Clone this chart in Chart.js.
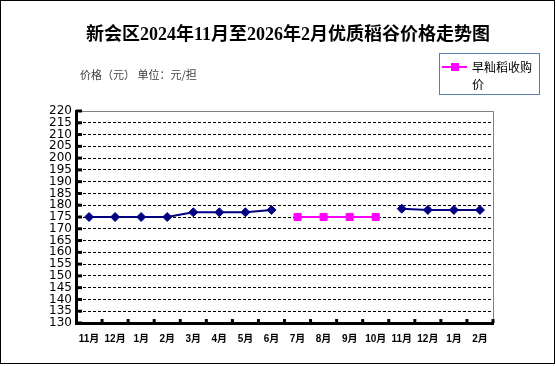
<!DOCTYPE html>
<html>
<head>
<meta charset="utf-8">
<script src="https://cdn.jsdelivr.net/npm/chart.js@4.4.1/dist/chart.umd.min.js"></script>
<style>
  html, body { margin: 0; padding: 0; background: #fff; }
  #wrap { position: relative; width: 556px; height: 366px; }
  #frame { position: absolute; left: 0; top: 0; width: 553px; height: 362px; border: 1px solid #000; pointer-events: none; }
  canvas { position: absolute; left: 0; top: 0; }
</style>
</head>
<body>
<div id="wrap">
  <canvas id="myChart" width="556" height="366"></canvas>
  <div id="frame"></div>
</div>
<script>
const chartTitle = '新会区2024年11月至2026年2月优质稻谷价格走势图';
const unitText = '价格（元） 单位：元/担';

const months = ['11月', '12月', '1月', '2月', '3月', '4月', '5月', '6月',
                '7月', '8月', '9月', '10月', '11月', '12月', '1月', '2月'];

// navy series (no legend entry in the picture)
const qualityPrice = [175, 175, 175, 175, 177, 177, 177, 178,
                      null, null, null, null, 178.5, 178, 178, 178];
// 早籼稻收购价
const earlyIndicaPrice = [null, null, null, null, null, null, null, null,
                          175, 175, 175, 175, null, null, null, null];

const yMin = 130;
const yMax = 220;
const yStep = 5;

const decorations = {
    id: 'decorations',
    beforeDatasetsDraw(chart) {
        const { ctx, chartArea: a, scales: { x, y } } = chart;
        ctx.save();
        // plot frame, top and right
        ctx.strokeStyle = '#808080';
        ctx.lineWidth = 1;
        ctx.beginPath();
        ctx.moveTo(a.left, a.top + 0.5);
        ctx.lineTo(a.right + 0.5, a.top + 0.5);
        ctx.lineTo(a.right + 0.5, a.bottom);
        ctx.stroke();
        // inner tick marks
        ctx.fillStyle = '#000';
        y.ticks.forEach(t => {
            const py = y.getPixelForValue(t.value);
            ctx.fillRect(a.left, py - 1.5, 6, 3);
        });
        const band = (a.right - a.left) / months.length;
        for (let i = 1; i <= months.length; i++) {
            const px = a.left + band * i;
            ctx.fillRect(px - 1.5, a.bottom - 4, 3, 4);
        }
        ctx.restore();
    },
    afterDraw(chart) {
        const { ctx } = chart;
        ctx.save();
        ctx.fillStyle = '#000';
        ctx.textAlign = 'center';
        ctx.textBaseline = 'middle';
        ctx.font = 'bold 18px "Liberation Serif", "Noto Sans CJK SC", serif';
        ctx.fillText(chartTitle, 288, 35);

        ctx.fillStyle = '#404040';
        ctx.textAlign = 'left';
        ctx.font = '11px "Noto Sans CJK SC", sans-serif';
        ctx.fillText(unitText, 80, 75);

        // legend for the second series
        const ds = chart.data.datasets[1];
        ctx.strokeStyle = '#5b7fae';
        ctx.lineWidth = 1;
        ctx.strokeRect(439.5, 53.5, 100, 41);
        ctx.strokeStyle = ds.borderColor;
        ctx.lineWidth = 2;
        ctx.beginPath();
        ctx.moveTo(442, 67);
        ctx.lineTo(467, 67);
        ctx.stroke();
        ctx.fillStyle = ds.backgroundColor;
        ctx.fillRect(451, 63, 8, 8);
        ctx.fillStyle = '#000';
        ctx.font = '12px "Noto Sans CJK SC", sans-serif';
        const chars = Array.from(ds.label);
        let line = '', lines = [];
        chars.forEach(c => {
            if (ctx.measureText(line + c).width > 62) { lines.push(line); line = c; }
            else line += c;
        });
        lines.push(line);
        lines.forEach((l, i) => ctx.fillText(l, 472, 67 + i * 17));
        ctx.restore();
    }
};

document.addEventListener('DOMContentLoaded', function() {
    const ctx = document.getElementById('myChart').getContext('2d');

    new Chart(ctx, {
        type: 'line',
        data: {
            labels: months,
            datasets: [{
                label: '优质稻谷价格',
                data: qualityPrice,
                borderColor: '#000080',
                backgroundColor: '#000080',
                borderWidth: 2,
                pointStyle: 'rectRot',
                pointRadius: 4.5,
                pointBorderWidth: 1,
                spanGaps: false,
                fill: false,
                tension: 0
            }, {
                label: '早籼稻收购价',
                data: earlyIndicaPrice,
                borderColor: '#ff00ff',
                backgroundColor: '#ff00ff',
                borderWidth: 2,
                pointStyle: 'rect',
                pointRadius: 5,
                pointBorderWidth: 1,
                spanGaps: false,
                fill: false,
                tension: 0
            }]
        },
        options: {
            responsive: false,
            animation: false,
            layout: { padding: { top: 111, right: 63, left: 0, bottom: 0 } },
            plugins: {
                legend: { display: false },
                title: { display: false },
                tooltip: { enabled: false }
            },
            scales: {
                x: {
                    offset: true,
                    grid: { display: false },
                    border: { color: '#000', width: 3 },
                    ticks: {
                        color: '#000',
                        font: { family: '"Liberation Sans", "Noto Sans CJK SC"', size: 10, weight: 'bold' },
                        padding: 2,
                        maxRotation: 0,
                        autoSkip: false
                    },
                    afterFit(s) { s.height = 43; }
                },
                y: {
                    min: yMin,
                    max: yMax,
                    ticks: {
                        stepSize: yStep,
                        autoSkip: false,
                        color: '#000',
                        font: { family: '"DejaVu Sans"', size: 12 },
                        padding: 4
                    },
                    grid: {
                        color: c => c.tick && c.tick.value === yMax ? 'rgba(0,0,0,0)' : '#000',
                        lineWidth: 1,
                        drawTicks: false
                    },
                    border: { color: '#000', width: 3, dash: [3, 2] },
                    afterFit(s) { s.width = 76; }
                }
            }
        },
        plugins: [decorations]
    });
});
</script>
</body>
</html>
